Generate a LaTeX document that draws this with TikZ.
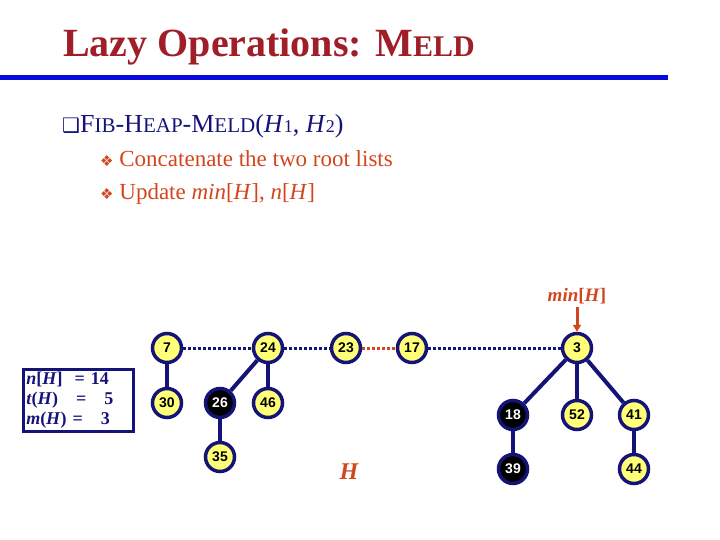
\documentclass[tikz,border=0pt]{standalone}
\usepackage{fontspec}
\setmainfont{Liberation Serif}
\setsansfont{Liberation Sans}
\newfontfamily\symfont{DejaVu Sans}
\usepackage{tikz}
\usetikzlibrary{arrows.meta,positioning}
\definecolor{titlered}{RGB}{160,30,40}
\definecolor{navy}{RGB}{20,20,120}
\definecolor{rulblue}{RGB}{10,10,220}
\definecolor{orangered}{RGB}{210,70,30}
\definecolor{nodeyellow}{RGB}{255,255,120}
\newcommand{\sck}[2]{#1{\fontsize{21}{21}\selectfont #2}}
\newcommand{\tsc}[2]{#1{\fontsize{30}{30}\selectfont #2}}
\begin{document}
\begin{tikzpicture}[
		x = 1pt, y = -1pt,
		> = {Triangle[length=7pt,width=8pt]},
		key/.style = {circle, draw = navy, line width = 3.5pt, fill = nodeyellow,
			minimum size = 29pt, inner sep = 0pt, font = \sffamily\bfseries\fontsize{14}{14}\selectfont},
		marked/.style = {key, fill = black, text = white},
		tree/.style = {draw = navy, line width = 4pt},
		rootlist/.style = {draw = navy, line width = 3pt, dotted}
	]
	\useasboundingbox (0,0) rectangle (720,540);
	
	% title and rule
	\node[anchor = base west, inner sep = 0pt, text = titlered, font = \bfseries\fontsize{40}{40}\selectfont] (title) at (63,57) {Lazy Operations: \tsc{M}{ELD}};
	\draw[draw = rulblue, line width = 5pt] (0,78) -- (668,78);
	
	% bullets
	\node[anchor = base west, inner sep = 0pt, text = navy, font = \fontsize{26}{26}\selectfont] (b1) at (62,133)
	{{\symfont\fontsize{20}{20}\selectfont ❑}\sck{F}{IB}-\sck{H}{EAP}-\sck{M}{ELD}(\textit{H}{\fontsize{18}{18}\selectfont 1}, \textit{H}{\fontsize{18}{18}\selectfont 2})};
	\node[anchor = base west, inner sep = 0pt, text = orangered, font = \fontsize{23}{23}\selectfont] (b2) at (100,167)
	{{\symfont\fontsize{15}{15}\selectfont ❖} Concatenate the two root lists};
	\node[anchor = base west, inner sep = 0pt, text = orangered, font = \fontsize{23}{23}\selectfont] (b3) at (100,200)
	{{\symfont\fontsize{15}{15}\selectfont ❖} Update \textit{min}[\textit{H}], \textit{n}[\textit{H}]};
	
	% heap nodes
	\node[key] (k7) at (167,348) {7};
	\node[key] (k24) at (268,348) {24};
	\node[key] (k23) at (346,348) {23};
	\node[key] (k17) at (412,348) {17};
	\node[key] (k3) at (577,348) {3};
	\node[key] (k30) at (167,403) {30};
	\node[marked] (k26) at (220,403) {26};
	\node[key] (k46) at (268,403) {46};
	\node[key] (k35) at (220,457) {35};
	\node[marked] (k18) at (513,415) {18};
	\node[key] (k52) at (577,415) {52};
	\node[key] (k41) at (634,415) {41};
	\node[marked] (k39) at (513,469) {39};
	\node[key] (k44) at (634,469) {44};
	
	% root list
	\draw[rootlist] (k7) -- (k24);
	\draw[rootlist] (k24) -- (k23);
	\draw[rootlist, draw = orangered] (k23) -- (k17);
	\draw[rootlist] (k17) -- (k3);
	
	% children
	\draw[tree] (k7) -- (k30);
	\draw[tree] (k24) -- (k26);
	\draw[tree] (k24) -- (k46);
	\draw[tree] (k26) -- (k35);
	\draw[tree] (k3) -- (k18);
	\draw[tree] (k3) -- (k52);
	\draw[tree] (k3) -- (k41);
	\draw[tree] (k18) -- (k39);
	\draw[tree] (k41) -- (k44);
	
	% min pointer
	\node[text = orangered, font = \bfseries\itshape\fontsize{19}{19}\selectfont] (minH) at (577,296) {min\textup{[}H\textup{]}};
	\draw[->, draw = orangered, fill = orangered, line width = 3pt] (minH) -- (k3);
	\node[text = orangered, font = \bfseries\itshape\fontsize{24}{24}\selectfont] (hlabel) at (349,472) {H};
	
	% counters
	\node[draw = navy, line width = 2.5pt, anchor = north west, text width = 104pt, minimum height = 62pt,
		align = left, inner sep = 3pt, font = \bfseries\fontsize{18}{20}\selectfont, text = navy] (info) at (22,368)
	{\textit{n}[\textit{H}] \ = 14\\ \textit{t}(\textit{H}) \ \ = \ \ 5\\ \textit{m}(\textit{H}) = \ \ 3};
\end{tikzpicture}
\end{document}
